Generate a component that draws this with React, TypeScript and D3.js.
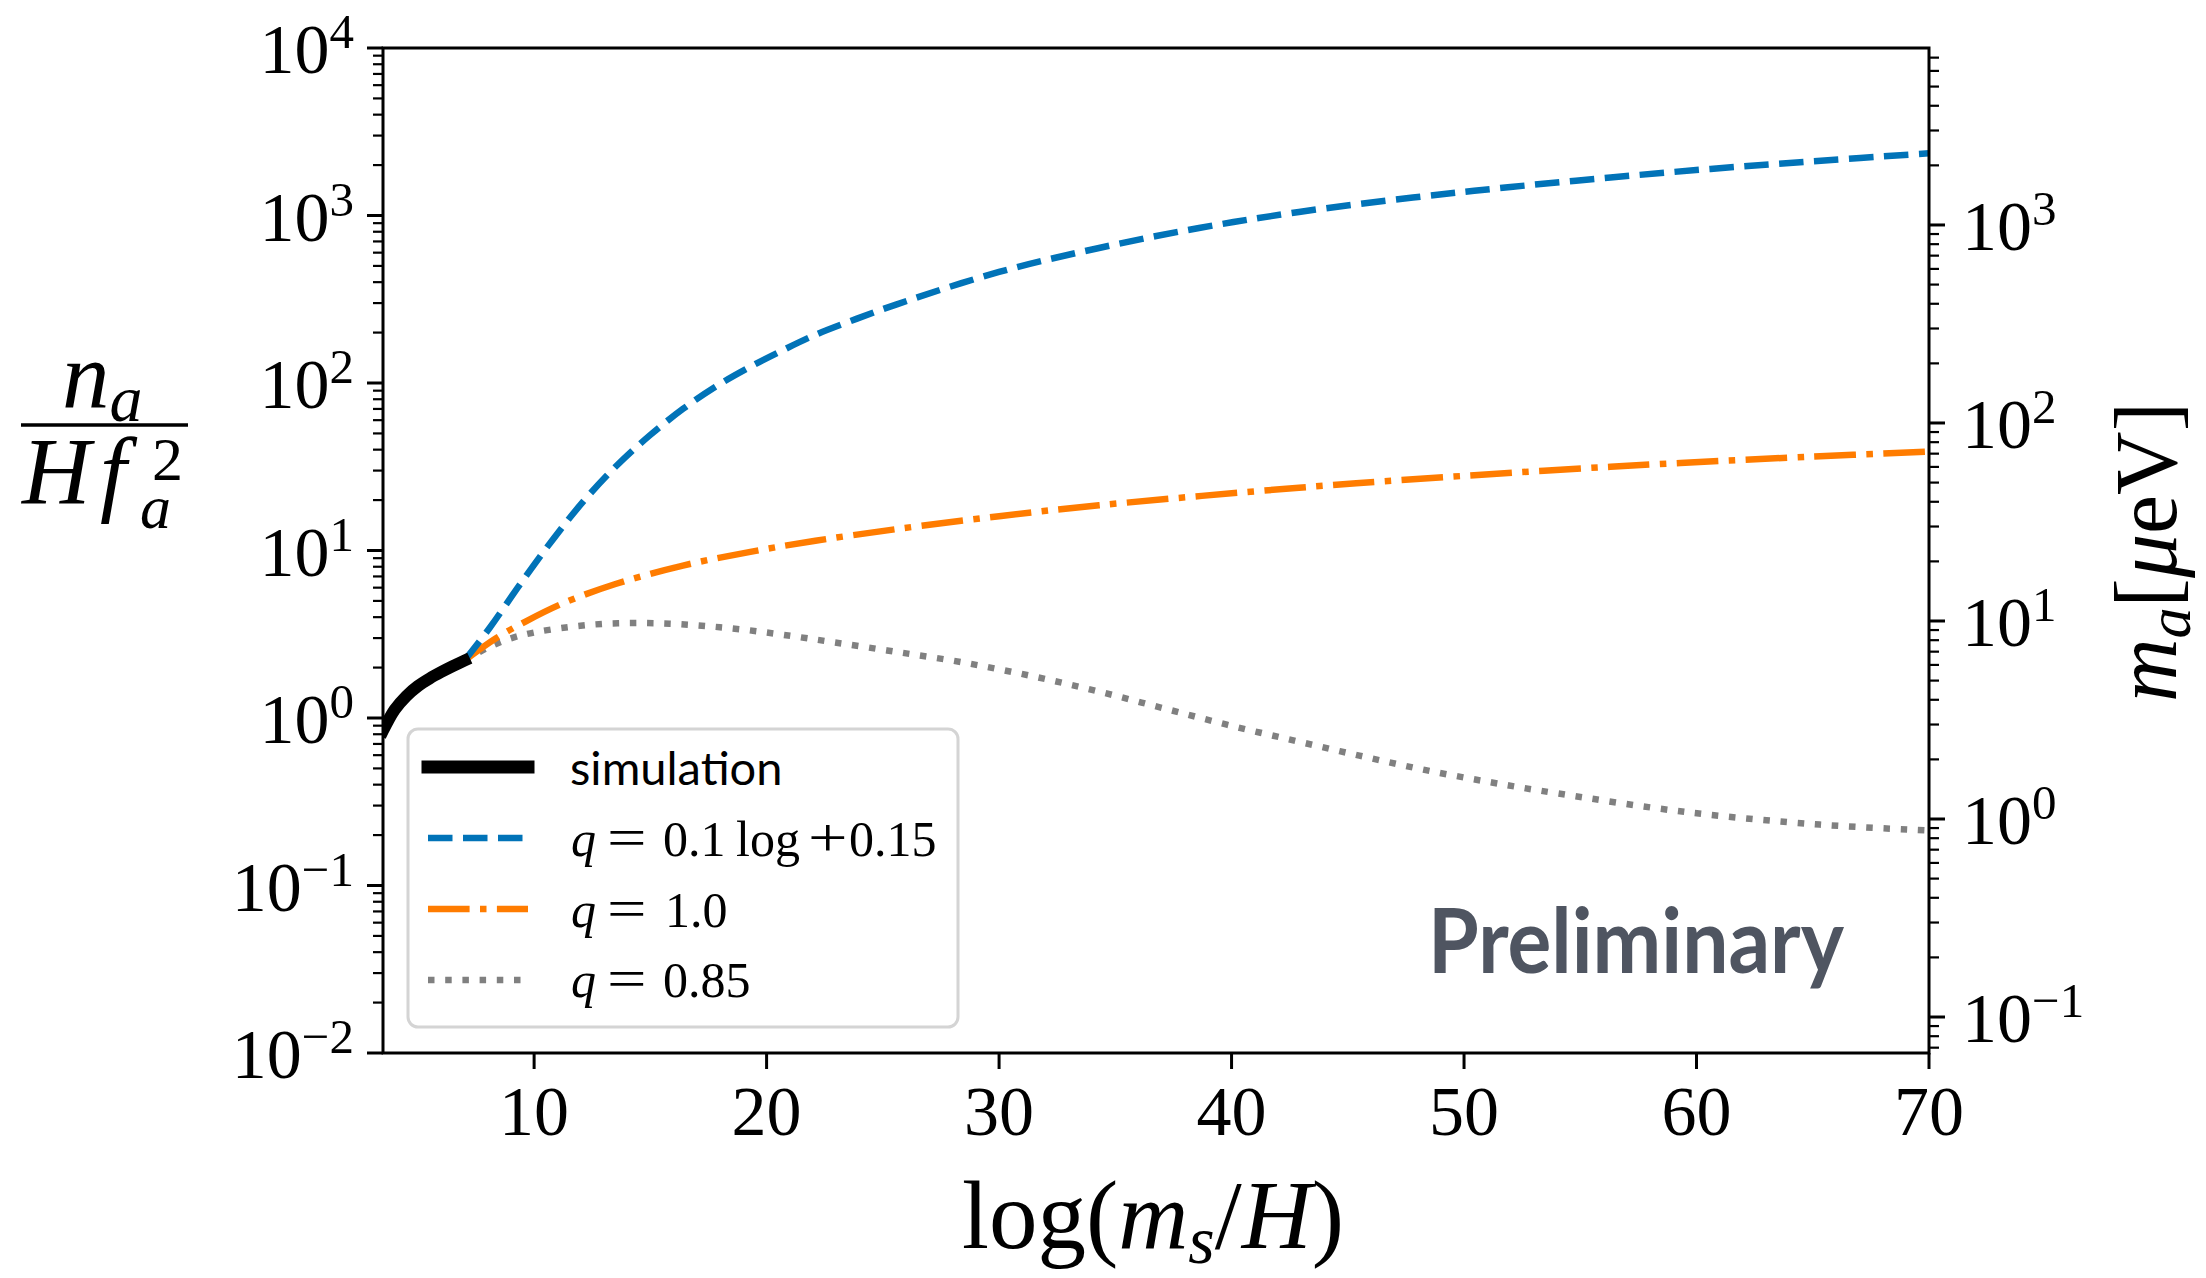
import React from 'react';
import * as d3 from 'd3';

const W = 2206;
const H = 1278;
const PL = 383, PR = 1929, PT = 48, PB = 1053;

const xDomain = [3.5, 70];
const yLeftDomain = [1e-2, 1e4];
const yRightDomain = [0.0658, 7830];
const xTicks = [10, 20, 30, 40, 50, 60, 70];
const leftExps = [-2, -1, 0, 1, 2, 3, 4];
const rightExps = [-1, 0, 1, 2, 3];

const simX = [3.5, 4.0, 4.5, 5.0, 5.5, 6.0, 6.5, 7.0];
const simY = [0.84, 1.12, 1.35, 1.55, 1.72, 1.88, 2.04, 2.2];

const blueX = [7.0, 8.1, 9.4, 10.8, 12.1, 13.5, 15.0, 16.4, 17.8, 19.3, 20.7, 22.1, 23.6, 25.6, 30, 34.3, 38.6, 42.9, 47.8, 52, 56.3, 60.6, 64.9, 70];
const blueY = [2.2, 3.47, 6.3, 11.6, 19.5, 31.6, 49, 70, 95, 125, 157, 194, 234, 295, 460, 640, 842, 1050, 1280, 1479, 1687, 1897, 2104, 2350];

const orangeX = [7.0, 8.36, 9.65, 11.24, 13.5, 16.4, 19.3, 22.1, 25.6, 30, 34.3, 42.9, 47.8, 56.3, 64.9, 70];
const orangeY = [2.2, 2.99, 3.78, 4.84, 6.31, 8.13, 9.82, 11.43, 13.43, 16.03, 18.62, 23.71, 26.61, 31.62, 36.31, 38.9];

const grayX = [7.0, 8.0, 9.0, 10.0, 11.5, 13.0, 14.5, 16.0, 17.5, 19.0, 20.7, 22.9, 25.6, 28.5, 31.4, 34.2, 37.0, 39.8, 42.7, 45.5, 48.3, 51.2, 54.0, 59.6, 65.3, 70];
const grayY = [2.2, 2.63, 2.99, 3.24, 3.49, 3.65, 3.69, 3.65, 3.53, 3.37, 3.14, 2.83, 2.48, 2.14, 1.78, 1.45, 1.15, 0.912, 0.733, 0.596, 0.49, 0.412, 0.355, 0.274, 0.231, 0.213];

const BLUE = '#0173b8';
const ORANGE = '#ff7c00';
const GRAY = '#808080';
const SERIF = '"Liberation Serif", "Times New Roman", serif';
const SANS = 'Lato, "Open Sans", sans-serif';

const x = d3.scaleLinear().domain(xDomain).range([PL, PR]);
const yL = d3.scaleLog().domain(yLeftDomain).range([PB, PT]);
const yR = d3.scaleLog().domain(yRightDomain).range([PB, PT]);

function mkLine(xs: number[], ys: number[]) {
  const pts = xs.map((v, i) => [v, ys[i]] as [number, number]);
  return d3
    .line<[number, number]>()
    .x((d) => x(d[0]))
    .y((d) => yL(d[1]))
    .curve(d3.curveCatmullRom.alpha(0.5))(pts) as string;
}

function expLabel(e: number) {
  return e < 0 ? '\u2212' + String(-e) : String(e);
}

function minorTicks(scale: d3.ScaleLogarithmic<number, number>) {
  return scale.ticks(60).filter((t) => {
    const l = Math.log10(t);
    return Math.abs(l - Math.round(l)) > 1e-6;
  });
}

export default function App() {
  const leftMinor = minorTicks(yL);
  const rightMinor = minorTicks(yR);
  const legendRows = [
    { y: 767, color: '#000', dash: null, w: 13 },
    { y: 838, color: BLUE, dash: '24.5 10.5', w: 6.5 },
    { y: 909, color: ORANGE, dash: '41.6 10.4 6.5 10.4', w: 6.5 },
    { y: 980, color: GRAY, dash: '6.5 10.7', w: 6.5 },
  ];
  const lx0 = 571;
  const mathRows = [
    { y: 856, tokens: [{ t: '0.1', dx: 92 }, { t: 'log', dx: 165 }, { t: '0.15', dx: 278 }], plus: 237 },
    { y: 927, tokens: [{ t: '1.0', dx: 94 }], plus: null },
    { y: 997, tokens: [{ t: '0.85', dx: 92 }], plus: null },
  ];
  return (
    <svg width={W} height={H} style={{ position: 'absolute', left: 0, top: 0, background: '#fff' }}>
      <defs>
        <clipPath id="plot">
          <rect x={PL} y={PT} width={PR - PL} height={PB - PT} />
        </clipPath>
      </defs>
      <rect x={0} y={0} width={W} height={H} fill="#fff" />

      {/* data lines */}
      <g clipPath="url(#plot)" fill="none">
        <path d={mkLine(grayX, grayY)} stroke={GRAY} strokeWidth={6.5} strokeDasharray="6.5 10.7" />
        <path d={mkLine(orangeX, orangeY)} stroke={ORANGE} strokeWidth={6.5} strokeDasharray="41.6 10.4 6.5 10.4" />
        <path d={mkLine(blueX, blueY)} stroke={BLUE} strokeWidth={6.5} strokeDasharray="24.5 10.5" />
        <path d={mkLine(simX, simY)} stroke="#000" strokeWidth={12} strokeLinecap="square" />
      </g>

      {/* frame */}
      <rect x={PL} y={PT} width={PR - PL} height={PB - PT} fill="none" stroke="#000" strokeWidth={3} />

      {/* ticks */}
      <g stroke="#000">
        {leftExps.map((e) => (
          <line key={'lM' + e} x1={PL - 16} x2={PL} y1={yL(Math.pow(10, e))} y2={yL(Math.pow(10, e))} strokeWidth={3} />
        ))}
        {leftMinor.map((t, i) => (
          <line key={'lm' + i} x1={PL - 10} x2={PL} y1={yL(t)} y2={yL(t)} strokeWidth={2.2} />
        ))}
        {rightExps.map((e) => (
          <line key={'rM' + e} x1={PR} x2={PR + 16} y1={yR(Math.pow(10, e))} y2={yR(Math.pow(10, e))} strokeWidth={3} />
        ))}
        {rightMinor.map((t, i) => (
          <line key={'rm' + i} x1={PR} x2={PR + 10} y1={yR(t)} y2={yR(t)} strokeWidth={2.2} />
        ))}
        {xTicks.map((t) => (
          <line key={'x' + t} x1={x(t)} x2={x(t)} y1={PB} y2={PB + 16} strokeWidth={3} />
        ))}
      </g>

      {/* tick labels */}
      <g fontFamily={SERIF} fill="#000">
        {leftExps.map((e) => (
          <text key={'lt' + e} x={354} y={yL(Math.pow(10, e)) + 25} fontSize={70} textAnchor="end">
            10<tspan fontSize={49} dy={-25}>{expLabel(e)}</tspan>
          </text>
        ))}
        {rightExps.map((e) => (
          <text key={'rt' + e} x={1962} y={yR(Math.pow(10, e)) + 25} fontSize={70} textAnchor="start">
            10<tspan fontSize={49} dy={-25}>{expLabel(e)}</tspan>
          </text>
        ))}
        {xTicks.map((t) => (
          <text key={'xt' + t} x={x(t)} y={1135} fontSize={70} textAnchor="middle">
            {t}
          </text>
        ))}
      </g>

      {/* x axis label */}
      <text x={1153} y={1248} fontFamily={SERIF} fontSize={97} textAnchor="middle">
        log(<tspan fontStyle="italic">m</tspan>
        <tspan fontStyle="italic" fontSize={68} dy={15}>s</tspan>
        <tspan dy={-15}>/</tspan>
        <tspan fontStyle="italic">H</tspan>)
      </text>

      {/* left y label (fraction) */}
      <g fontFamily={SERIF} fill="#000">
        <text x={62} y={408} fontSize={95} fontStyle="italic">
          n<tspan fontSize={66} dy={13}>a</tspan>
        </text>
        <line x1={21} x2={188} y1={425} y2={425} stroke="#000" strokeWidth={3.5} />
        <text x={22} y={504} fontSize={95} fontStyle="italic">
          H<tspan x={100}>f</tspan>
          <tspan x={152} dy={-24} fontSize={62} fontStyle="normal">2</tspan>
          <tspan x={140} dy={48} fontSize={62}>a</tspan>
        </text>
      </g>

      {/* right y label */}
      <text transform="translate(2176,552) rotate(-90)" fontFamily={SERIF} fontSize={88} textAnchor="middle">
        <tspan fontStyle="italic">m</tspan>
        <tspan fontStyle="italic" fontSize={62} dy={14}>a</tspan>
        <tspan dy={-14}>[</tspan>
        <tspan fontStyle="italic">μ</tspan>
        <tspan>eV]</tspan>
      </text>

      {/* legend */}
      <rect x={408} y={729} width={550} height={298} rx={10} ry={10} fill="#fff" fillOpacity={0.8} stroke="#d4d4d4" strokeWidth={3} />
      {legendRows.map((r, i) => (
        <line
          key={'lg' + i}
          x1={428}
          x2={528}
          y1={r.y}
          y2={r.y}
          stroke={r.color}
          strokeWidth={r.w}
          strokeDasharray={r.dash || undefined}
          strokeLinecap={r.dash ? 'butt' : 'square'}
        />
      ))}
      <text x={570} y={785} fontFamily={SANS} fontSize={47} fill="#000">simulation</text>
      <g fontFamily={SERIF} fontSize={50} fill="#000">
        {mathRows.map((r, i) => (
          <g key={'mr' + i}>
            <text x={lx0} y={r.y} fontStyle="italic">q</text>
            <text transform={`translate(${lx0 + 36},${r.y}) scale(1.3,1)`} fontSize={54}>=</text>
            {r.plus !== null && (
              <text transform={`translate(${lx0 + r.plus},${r.y}) scale(1.3,1)`} fontSize={54}>+</text>
            )}
            {r.tokens.map((tk, j) => (
              <text key={j} x={lx0 + tk.dx} y={r.y}>{tk.t}</text>
            ))}
          </g>
        ))}
      </g>

      {/* watermark */}
      <text x={1428} y={973} fontFamily={SANS} fontWeight={700} fontSize={90} fill="#4f5561" textLength={416} lengthAdjust="spacingAndGlyphs">
        Preliminary
      </text>
    </svg>
  );
}
